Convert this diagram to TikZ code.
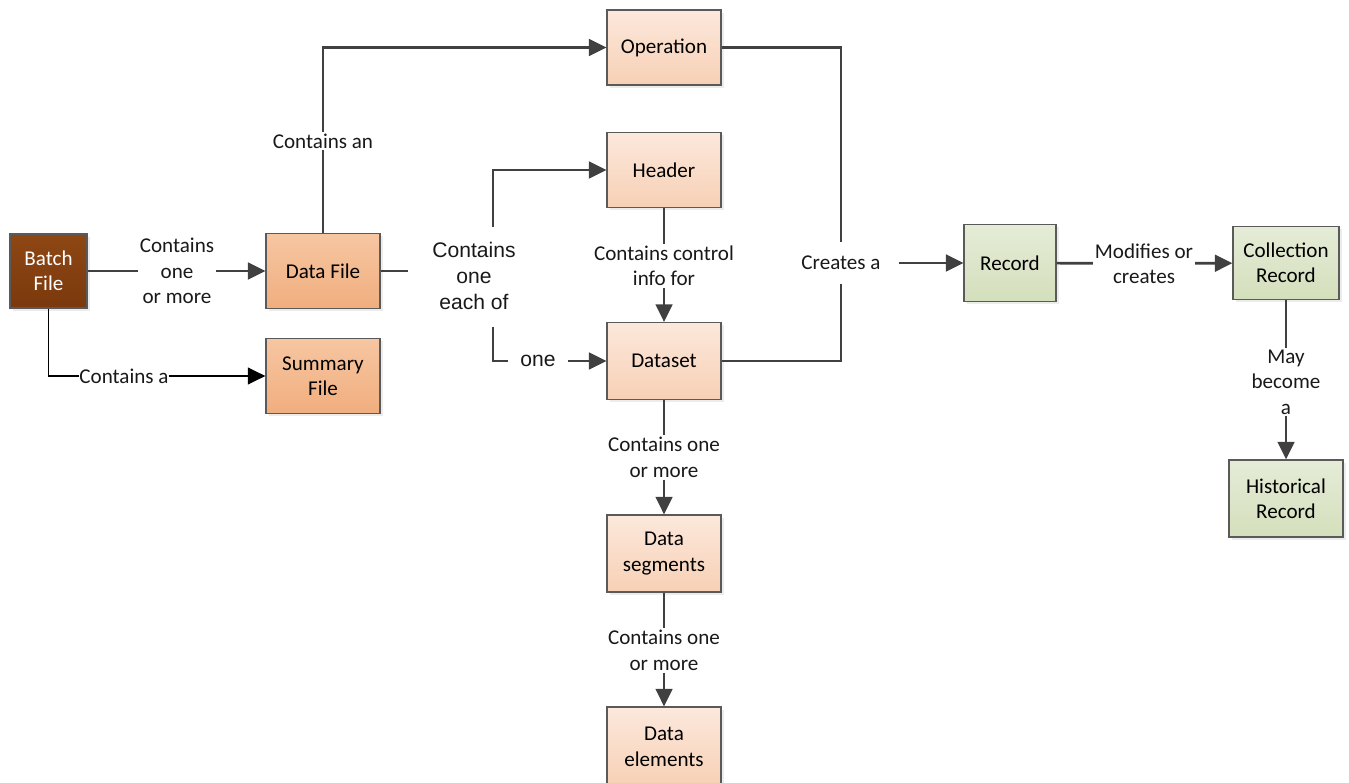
\documentclass[tikz,border=0pt]{standalone}
\usepackage{fontspec}
\setmainfont{Carlito}
\newfontfamily\arialfont{Liberation Sans}
\usetikzlibrary{arrows.meta,shadows}

\definecolor{linegray}{HTML}{404040}
\definecolor{boxline}{HTML}{5A5A5A}
\definecolor{paletop}{HTML}{FCE8DC}
\definecolor{palebot}{HTML}{F7D0B5}
\definecolor{orgtop}{HTML}{F6C6A2}
\definecolor{orgbot}{HTML}{F1AE7E}
\definecolor{browntop}{HTML}{8E4714}
\definecolor{brownbot}{HTML}{7A390D}
\definecolor{greentop}{HTML}{E5ECD7}
\definecolor{greenbot}{HTML}{D4DFBC}

\begin{document}
\begin{tikzpicture}[x=0.02cm,y=-0.02cm,
    box/.style={draw=boxline,line width=0.7pt,align=center,font=\fontsize{12}{14.5}\selectfont,
        minimum width=2.28cm,minimum height=1.5cm,inner sep=2pt,
        drop shadow={shadow xshift=1.5pt,shadow yshift=-1.5pt,fill=black!15}},
    pale/.style={box,top color=paletop,bottom color=palebot},
    orange/.style={box,top color=orgtop,bottom color=orgbot},
    green/.style={box,top color=greentop,bottom color=greenbot},
    lbl/.style={align=center,font=\fontsize{12}{14.5}\selectfont,inner sep=1pt,text=black!90},
    conn/.style={draw=linegray,line width=1.5pt},
    arr/.style={conn,-{Triangle[length=10pt,width=9.5pt]}}]
    \useasboundingbox (0,0) rectangle (1349,783);

    % boxes
    \node[box,top color=browntop,bottom color=brownbot,text=white,minimum width=1.54cm,minimum height=1.48cm](batch)at(48.5,271){Batch\\File};
    \node[orange](datafile)at(323,271){Data File};
    \node[orange](summary)at(323,376){Summary\\File};
    \node[pale](operation)at(664,47.5){Operation};
    \node[pale](header)at(664,170){Header};
    \node[pale,minimum height=1.54cm](dataset)at(664,361){Dataset};
    \node[pale,minimum height=1.54cm](dataseg)at(664,553.5){Data\\segments};
    \node[pale,minimum height=1.6cm](dataelem)at(664,747){Data\\elements};
    \node[green,minimum width=1.84cm,minimum height=1.54cm](record)at(1010,263){Record};
    \node[green,minimum width=2.12cm,minimum height=1.46cm](collection)at(1286,263){Collection\\Record};
    \node[green,minimum height=1.54cm](historical)at(1286,498.5){Historical\\Record};

    % labels
    \node[lbl](onemore)at(177,271){Contains\\one\\or more};
    \node[lbl,inner sep=0pt](containsa)at(124,376){Contains a};
    \node[lbl](containsan)at(323,141){Contains an};
    \node[lbl,font=\arialfont\fontsize{12}{14.8}\selectfont](eachof)at(474,276){Contains\\one\\each of};
    \node[lbl,font=\arialfont\fontsize{12}{14.5}\selectfont,inner xsep=7pt](one)at(538,361){one};
    \node[lbl](control)at(664,266){Contains control\\info for};
    \node[lbl](segmore)at(664,457.5){Contains one\\or more};
    \node[lbl](elemmore)at(664,650.5){Contains one\\or more};
    \node[lbl,inner xsep=10pt,inner ysep=8pt](creates)at(841,263){Creates a};
    \node[lbl](modifies)at(1144,263.5){Modifies or\\creates};
    \node[lbl](become)at(1286,382){May\\become\\a};

    \coordinate(stub)at(408,271);
    \coordinate(uptop)at(493,227);
    \coordinate(upbot)at(493,327);

    % connectors
    \draw[conn](batch)--(onemore);
    \draw[arr](onemore)--(datafile);
    \draw[draw=black,line width=1.1pt](batch.south)|-(containsa.west);
    \draw[draw=black,line width=1.1pt,-{Triangle[length=10pt,width=9.5pt]}](containsa)--(summary);
    \draw[conn](datafile)--(containsan);
    \draw[arr](containsan.north)|-(operation.west);
    \draw[conn](datafile)--(stub);
    \draw[arr](uptop)|-(header.west);
    \draw[conn](upbot)|-(one.west);
    \draw[arr](one)--(dataset);
    \draw[conn](header)--(control);
    \draw[arr](control)--(dataset);
    \draw[conn](dataset)--(segmore);
    \draw[arr](segmore)--(dataseg);
    \draw[conn](dataseg)--(elemmore);
    \draw[arr](elemmore)--(dataelem);
    \draw[conn](operation.east)-|(creates.north);
    \draw[conn](dataset.east)-|(creates.south);
    \draw[arr](creates)--(record);
    \draw[conn](record)--(modifies);
    \draw[arr](modifies)--(collection);
    \draw[conn](collection)--(become);
    \draw[arr](become)--(historical);
\end{tikzpicture}
\end{document}
